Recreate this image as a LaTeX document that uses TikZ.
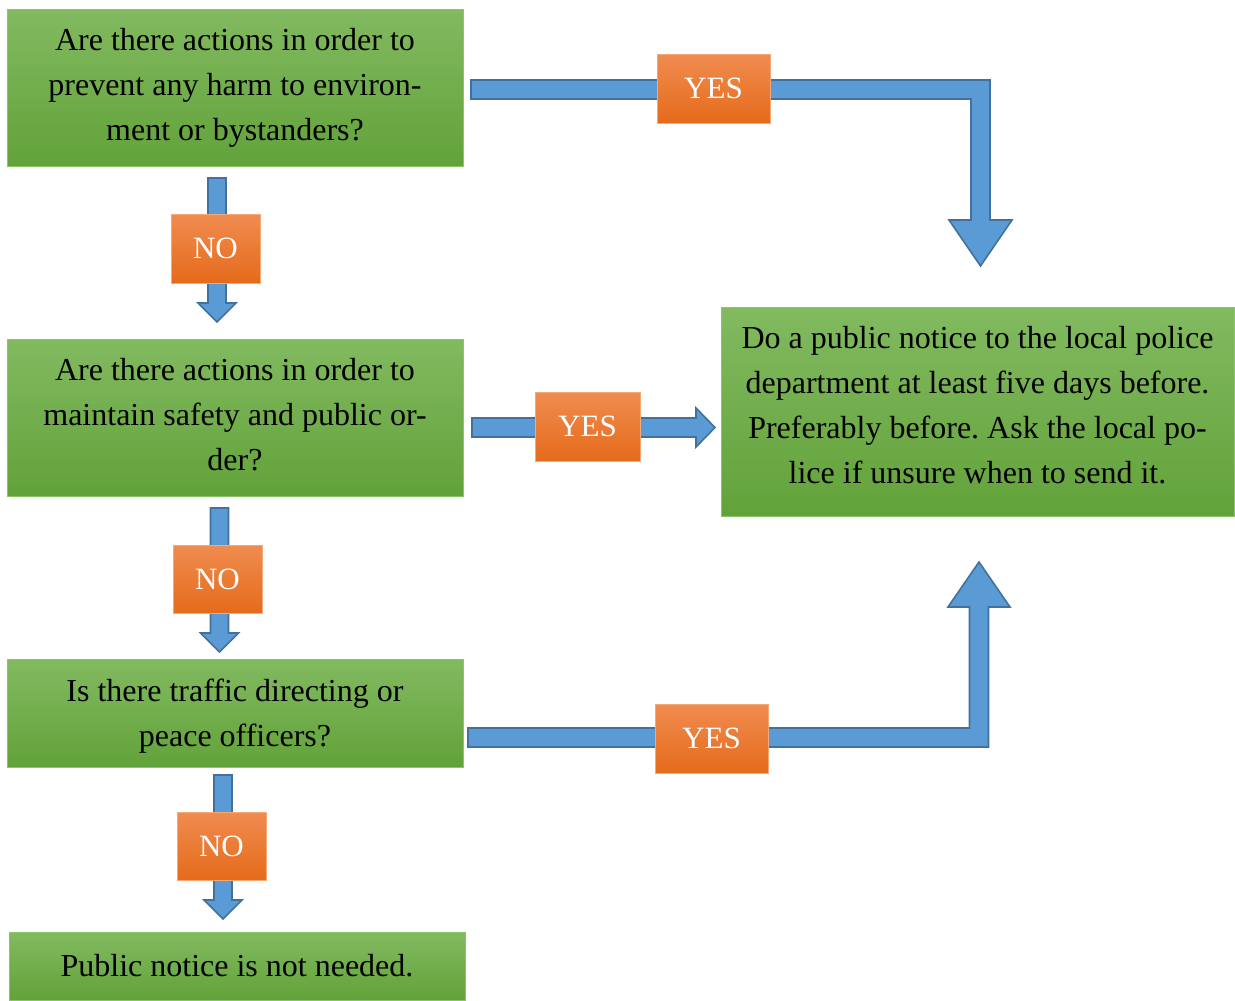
\documentclass[tikz,border=0pt]{standalone}
\usepackage{fontspec}
\setmainfont{Liberation Serif}
\frenchspacing
\usetikzlibrary{calc}
\definecolor{gtop}{HTML}{82BA60}
\definecolor{gbot}{HTML}{62A23A}
\definecolor{gborder}{HTML}{8CC46A}
\definecolor{otop}{HTML}{F08C50}
\definecolor{omid}{HTML}{F47C28}
\definecolor{obot}{HTML}{E56B1B}
\definecolor{oborder}{HTML}{F6A877}
\definecolor{bfill}{HTML}{5B9BD5}
\definecolor{bstroke}{HTML}{41719C}
\tikzset{
  qbox/.style={draw=gborder, line width=1pt, top color=gtop, bottom color=gbot,
    minimum width=456pt, minimum height=157pt, align=center, inner sep=0pt,
    font=\fontsize{32}{45}\selectfont},
  lab/.style={draw=oborder, line width=1pt, top color=otop, middle color=omid, bottom color=obot,
    text=white, minimum height=69pt, inner sep=0pt, font=\fontsize{31}{36}\selectfont},
  barrow/.style={draw=bstroke, fill=bfill, line width=1.6pt, line join=miter},
}
\newcommand{\downarr}[2]{%
  \draw[barrow] ($(#1)+(-9,0)$) -- ($(#1)+(9,0)$) -- ($(#2)+(9,-19)$) -- ($(#2)+(19,-19)$)
    -- (#2) -- ($(#2)+(-19,-19)$) -- ($(#2)+(-9,-19)$) -- cycle;}
\newcommand{\liftlines}[2]{\raisebox{#1}[\height][\depth]{\begin{tabular}{@{}c@{}}#2\end{tabular}}}
\begin{document}
\begin{tikzpicture}[x=1pt,y=-1pt]
\useasboundingbox (0,0) rectangle (1235,1001);

% boxes
\node[qbox] (q1) at (235,87.5) {Are there actions in order to\\prevent any harm to environ-\\ment or bystanders?};
\node[qbox] (q2) at (235,417.5) {\liftlines{1pt}{Are there actions in order to\\maintain safety and public or-\\der?}};
\node[qbox, minimum height=108pt] (q3) at (235,713) {\liftlines{-1.5pt}{Is there traffic directing or\\peace officers?}};
\node[qbox, minimum height=68pt] (fin) at (237,966) {Public notice is not needed.};
\node[qbox, minimum width=513pt, minimum height=209pt] (act) at (977.5,411.5)
  {\liftlines{5pt}{Do a public notice to the local police\\department at least five days before.\\Preferably before. Ask the local po-\\lice if unsure when to send it.}};

% connector end points
\coordinate (n1a) at (217,178);   \coordinate (n1b) at (217,322);
\coordinate (n2a) at (219.5,508); \coordinate (n2b) at (219.5,652);
\coordinate (n3a) at (223,775);   \coordinate (n3b) at (223,919);
\coordinate (b1s) at (471,89.5);  \coordinate (b1c) at (980.5,89.5); \coordinate (b1t) at (980.5,266);
\coordinate (y2s) at (472,427.5); \coordinate (y2t) at (715,427.5);
\coordinate (b3s) at (468,737.5); \coordinate (b3c) at (979,737.5);  \coordinate (b3t) at (979,562);

% NO arrows
\downarr{n1a}{n1b}
\downarr{n2a}{n2b}
\downarr{n3a}{n3b}

% YES arrow 1 (bent down)
\draw[barrow] ($(b1s)+(0,-9.5)$) -- ($(b1c)+(9.5,-9.5)$) -- ($(b1t)+(9.5,-46)$) -- ($(b1t)+(31.5,-46)$)
  -- (b1t) -- ($(b1t)+(-31.5,-46)$) -- ($(b1t)+(-9.5,-46)$) -- ($(b1c)+(-9.5,9.5)$) -- ($(b1s)+(0,9.5)$) -- cycle;

% YES arrow 2 (straight)
\draw[barrow] ($(y2s)+(0,-9.5)$) -- ($(y2t)+(-19,-9.5)$) -- ($(y2t)+(-19,-19.5)$) -- (y2t)
  -- ($(y2t)+(-19,19.5)$) -- ($(y2t)+(-19,9.5)$) -- ($(y2s)+(0,9.5)$) -- cycle;

% YES arrow 3 (bent up)
\draw[barrow] ($(b3s)+(0,9.5)$) -- ($(b3c)+(9.5,9.5)$) -- ($(b3t)+(9.5,45)$) -- ($(b3t)+(31,45)$)
  -- (b3t) -- ($(b3t)+(-31,45)$) -- ($(b3t)+(-9.5,45)$) -- ($(b3c)+(-9.5,-9.5)$) -- ($(b3s)+(0,-9.5)$) -- cycle;

% labels
\node[lab, minimum width=89pt] (no1) at (215.5,248.5) {NO};
\node[lab, minimum width=89pt, minimum height=68pt] (no2) at (217.5,579) {NO};
\node[lab, minimum width=89pt, minimum height=68pt] (no3) at (221.5,846) {NO};
\node[lab, minimum width=113pt] (yes1) at (713.5,88.5) {YES};
\node[lab, minimum width=105pt] (yes2) at (587.5,426.5) {YES};
\node[lab, minimum width=113pt] (yes3) at (711.5,738.5) {YES};
\end{tikzpicture}
\end{document}
